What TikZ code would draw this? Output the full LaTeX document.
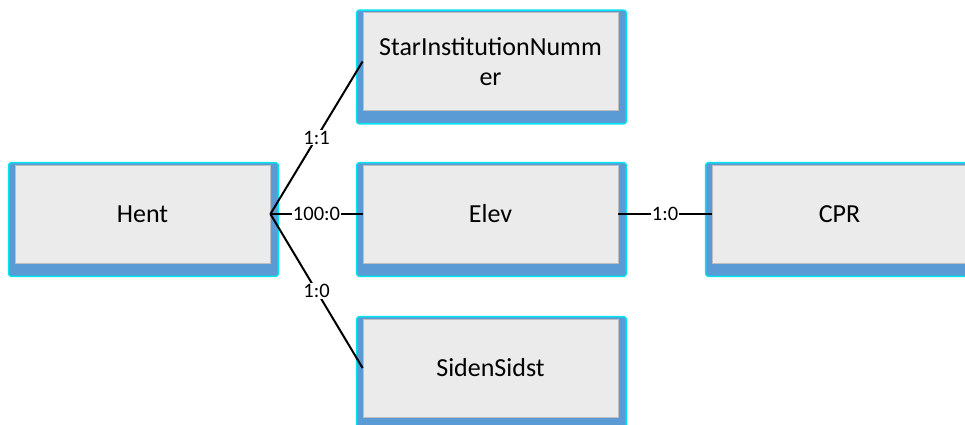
\documentclass[tikz,border=0pt]{standalone}
\usepackage{fontspec}
\setmainfont{Carlito}
\usetikzlibrary{calc,backgrounds}
\definecolor{boxfill}{RGB}{235,235,235}
\definecolor{boxedge}{RGB}{190,190,190}
\definecolor{shadowblue}{RGB}{91,155,213}
\definecolor{rimcyan}{RGB}{0,230,240}
\tikzset{
  entity/.style={rectangle, fill=boxfill, draw=boxedge, line width=0.6pt,
    minimum width=191.25pt, minimum height=73.5pt, inner sep=0pt, align=center,
    font=\fontsize{19.5}{22.5}\selectfont},
  rel/.style={draw=black, line width=1.5pt},
  lbl/.style={fill=white, inner sep=0.6pt, font=\fontsize{15.4}{17}\selectfont}
}
\newcommand{\shadowbox}[1]{%
  \fill[shadowblue, draw=rimcyan, line width=1pt, rounded corners=2]
    ($(#1.north west)+(-6,-2)$) rectangle ($(#1.south east)+(8,13)$);}
\begin{document}
\begin{tikzpicture}[x=0.75pt,y=-0.75pt]
\useasboundingbox (0,0) rectangle (965,425);
\clip (0,0) rectangle (965,425);
\node[entity] (hent) at (142.5,214) {Hent};
\node[entity] (star) at (490.5,61.5) {StarInstitutionNumm\\er};
\node[entity] (elev) at (490.5,214) {Elev};
\node[entity] (cpr) at (839.5,214) {CPR};
\node[entity] (siden) at (490.5,368) {SidenSidst};
\begin{scope}[on background layer]
  \shadowbox{hent}
  \shadowbox{star}
  \shadowbox{elev}
  \shadowbox{cpr}
  \shadowbox{siden}
\end{scope}
\draw[rel] (hent.east) -- node[lbl]{1:1} (star.west);
\draw[rel] (hent.east) -- node[lbl]{100:0} (elev.west);
\draw[rel] (hent.east) -- node[lbl]{1:0} (siden.west);
\draw[rel] (elev.east) -- node[lbl]{1:0} (cpr.west);
\end{tikzpicture}
\end{document}
